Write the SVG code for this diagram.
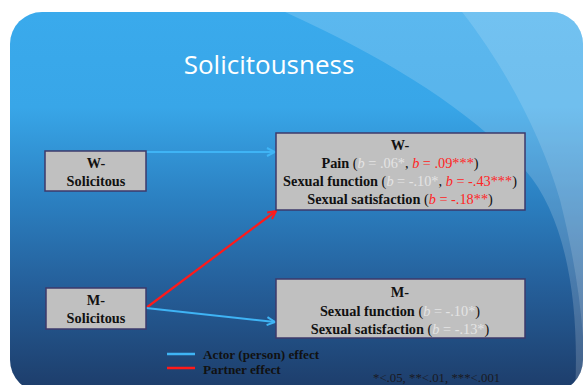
<svg xmlns="http://www.w3.org/2000/svg" width="585" height="385" viewBox="0 0 585 385">
  <defs>
    <linearGradient id="slideBg" x1="0" y1="0" x2="0" y2="1" gradientUnits="objectBoundingBox">
      <stop offset="0" stop-color="#3aaaec"/>
      <stop offset="0.25" stop-color="#38a6e8"/>
      <stop offset="0.5" stop-color="#2b7fc0"/>
      <stop offset="0.72" stop-color="#255f9a"/>
      <stop offset="1" stop-color="#1d3c69"/>
    </linearGradient>
    <clipPath id="slideClip">
      <rect x="10" y="12" width="573" height="380" rx="32" ry="32"/>
    </clipPath>
    <marker id="arrowBlue" viewBox="0 0 10 10" refX="9" refY="5" markerWidth="10" markerHeight="10" markerUnits="userSpaceOnUse" orient="auto">
      <path d="M1,1 L9,5 L1,9" fill="none" stroke="#3fb4f5" stroke-width="2"/>
    </marker>
    <marker id="arrowRed" viewBox="0 0 10 10" refX="9" refY="5" markerWidth="10" markerHeight="10" markerUnits="userSpaceOnUse" orient="auto">
      <path d="M1,1 L9,5 L1,9" fill="none" stroke="#ff1a1a" stroke-width="2"/>
    </marker>
    <style>
      .box { fill: #c0c0c0; stroke: #3d3a6b; stroke-width: 1.5; }
      .lbl { font-family: "Liberation Serif", "Times New Roman", serif; font-weight: bold; font-size: 14.3px; fill: #111111; text-anchor: middle; }
      .stat { font-weight: normal; }
      .gray { fill: #e4e4e4; }
      .red { fill: #ff2424; }
      .it { font-style: italic; }
      .actor { stroke: #3fb4f5; stroke-width: 2; fill: none; }
      .partner { stroke: #ff1a1a; stroke-width: 2.2; fill: none; }
      .legend { font-family: "Liberation Serif", "Times New Roman", serif; font-weight: bold; font-size: 13.2px; fill: #111111; }
      .note { font-family: "Liberation Serif", "Times New Roman", serif; font-size: 12.8px; fill: #1a1a22; }
      .title { font-family: "Open Sans", "DejaVu Sans", sans-serif; font-size: 26px; fill: #ffffff; text-anchor: middle; }
    </style>
  </defs>

  <!-- page -->
  <rect x="0" y="0" width="585" height="385" fill="#ffffff"/>

  <!-- slide background with decorative swoosh bands -->
  <g clip-path="url(#slideClip)">
    <rect x="10" y="12" width="575" height="380" fill="url(#slideBg)"/>
    <path d="M285,12 C390,60 470,110 525,170 C565,215 580,300 575,392 L590,392 L590,12 Z" fill="#ffffff" fill-opacity="0.17"/>
    <path d="M462,12 C500,60 540,130 560,200 C575,260 585,320 585,392 L590,392 L590,12 Z" fill="#ffffff" fill-opacity="0.14"/>
  </g>

  <text class="title" x="269" y="74">Solicitousness</text>

  <!-- connectors -->
  <g id="connectors">
    <line class="actor" x1="146" y1="152" x2="275" y2="152" marker-end="url(#arrowBlue)"/>
    <line class="partner" x1="146" y1="308" x2="276" y2="211" marker-end="url(#arrowRed)"/>
    <line class="actor" x1="146" y1="308" x2="275" y2="322" marker-end="url(#arrowBlue)"/>
  </g>

  <g id="w-solicitous">
    <rect class="box" x="45" y="151" width="101" height="40"/>
    <text class="lbl" x="96" y="168">W-</text>
    <text class="lbl" x="96" y="186">Solicitous</text>
  </g>

  <g id="m-solicitous">
    <rect class="box" x="46" y="288" width="100" height="41"/>
    <text class="lbl" x="96" y="305">M-</text>
    <text class="lbl" x="96" y="323">Solicitous</text>
  </g>

  <g id="w-outcomes">
    <rect class="box" x="276" y="133" width="249" height="77"/>
    <text class="lbl" x="400" y="150">W-</text>
    <text class="lbl" x="400" y="168">Pain <tspan class="stat">(<tspan class="gray"><tspan class="it">b</tspan> = .06*</tspan>, <tspan class="red"><tspan class="it">b</tspan> = .09***</tspan>)</tspan></text>
    <text class="lbl" x="400" y="186">Sexual function <tspan class="stat">(<tspan class="gray"><tspan class="it">b</tspan> = -.10*</tspan>, <tspan class="red"><tspan class="it">b</tspan> = -.43***</tspan>)</tspan></text>
    <text class="lbl" x="400" y="204">Sexual satisfaction <tspan class="stat">(<tspan class="red"><tspan class="it">b</tspan> = -.18**</tspan>)</tspan></text>
  </g>

  <g id="m-outcomes">
    <rect class="box" x="276" y="279" width="249" height="59"/>
    <text class="lbl" x="400" y="297">M-</text>
    <text class="lbl" x="400" y="316">Sexual function <tspan class="stat">(<tspan class="gray"><tspan class="it">b</tspan> = -.10*</tspan>)</tspan></text>
    <text class="lbl" x="400" y="334">Sexual satisfaction <tspan class="stat">(<tspan class="gray"><tspan class="it">b</tspan> = -.13*</tspan>)</tspan></text>
  </g>

  <!-- legend -->
  <g id="legend">
    <line x1="167" y1="354" x2="195" y2="354" stroke="#3fb4f5" stroke-width="2.5"/>
    <line x1="167" y1="368" x2="195" y2="368" stroke="#ff1a1a" stroke-width="2.5"/>
    <text class="legend" x="203" y="359">Actor (person) effect</text>
    <text class="legend" x="203" y="374">Partner effect</text>
  </g>

  <text class="note" x="373" y="382">*&lt;.05, **&lt;.01, ***&lt;.001</text>
</svg>
